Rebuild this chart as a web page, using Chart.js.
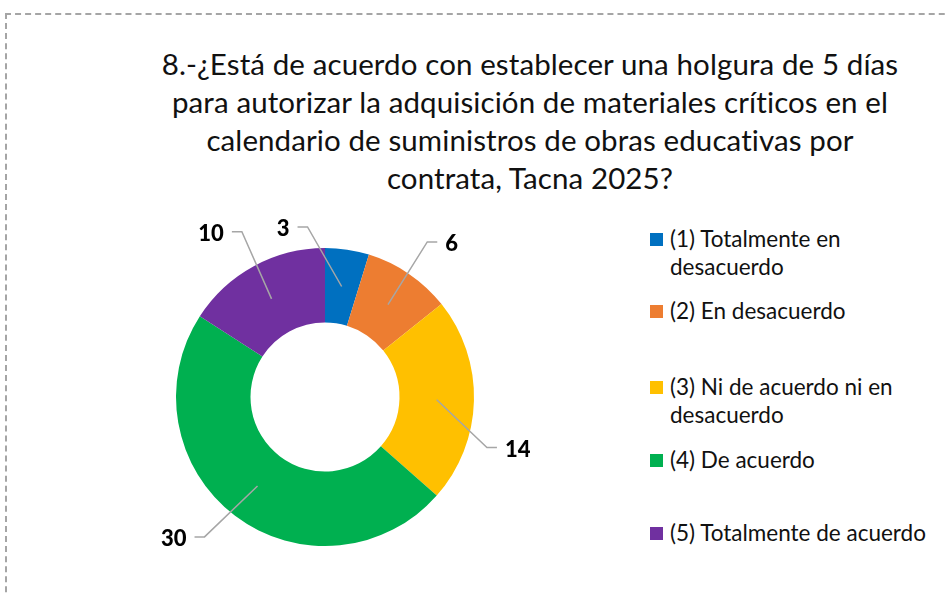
<!DOCTYPE html>
<html>
<head>
<meta charset="utf-8">
<script src="https://cdn.jsdelivr.net/npm/chart.js@4/dist/chart.umd.min.js"></script>
<style>
  html, body { margin: 0; padding: 0; background: #fff; overflow: hidden; }
  body { width: 945px; height: 596px; position: relative; font-family: Lato, "Noto Sans", sans-serif; color: #111; }
  .frame { position: absolute; left: 5px; top: 13px; width: 1000px; height: 700px; border: 2px dashed #a5a5a5; box-sizing: border-box; }
  .title { position: absolute; left: 115px; width: 830px; top: 45px; text-align: center; font-size: 29.5px; letter-spacing: 0.1px; line-height: 38px; }
  #chart { position: absolute; left: 110px; top: 210px; }
  .legend { position: absolute; left: 650px; top: 0; width: 295px; }
  .legend div { position: absolute; left: 0; font-size: 22.5px; line-height: 28px; padding-left: 20px; width: 268px; }
  .legend span { position: absolute; left: 0; top: 8px; width: 13px; height: 13px; }
</style>
</head>
<body>
<div class="frame"></div>
<div class="title">8.-¿Está de acuerdo con establecer una holgura de 5 días<br>para autorizar la adquisición de materiales críticos en el<br>calendario de suministros de obras educativas por<br>contrata, Tacna 2025?</div>
<canvas id="chart" width="430" height="374"></canvas>
<div class="legend" id="legend"></div>
<script>
// Response categories and counts
const categories = [
  "(1) Totalmente en desacuerdo",
  "(2) En desacuerdo",
  "(3) Ni de acuerdo ni en desacuerdo",
  "(4) De acuerdo",
  "(5) Totalmente de acuerdo"
];
const counts = [3, 6, 14, 30, 10];
const colors = ["#0070C0", "#ED7D31", "#FFC000", "#00B050", "#7030A0"];

// Where each data label sits, nudged from the default spot outside the ring
const labelNudge = [[-44, 6], [2, -8], [-16, 46], [-13, -2], [2, -9]];
// Vertical position of each legend entry
const legendTops = [225, 297, 373, 446, 519];

// Build the legend
const legend = document.getElementById("legend");
categories.forEach((name, i) => {
  const item = document.createElement("div");
  item.style.top = legendTops[i] + "px";
  item.innerHTML = `<span style="background:${colors[i]}"></span>${name}`;
  legend.appendChild(item);
});

// Draws the value labels with gray leader lines, like the spreadsheet chart
const leaderLabels = {
  id: "leaderLabels",
  afterDatasetsDraw(chart) {
    const ctx = chart.ctx;
    const meta = chart.getDatasetMeta(0);
    ctx.save();
    meta.data.forEach((arc, i) => {
      const p = arc.getProps(["x", "y", "startAngle", "endAngle", "innerRadius", "outerRadius"], true);
      const mid = (p.startAngle + p.endAngle) / 2;
      const rIn = (p.innerRadius + p.outerRadius) / 2;
      const rOut = p.outerRadius + 29;
      const sx = p.x + rIn * Math.cos(mid);
      const sy = p.y + rIn * Math.sin(mid);
      const ex = p.x + rOut * Math.cos(mid) + labelNudge[i][0];
      const ey = p.y + rOut * Math.sin(mid) + labelNudge[i][1];
      const left = ex < p.x;
      const hx = left ? ex - 10 : ex + 10;

      ctx.strokeStyle = "#a6a6a6";
      ctx.lineWidth = 1.5;
      ctx.beginPath();
      ctx.moveTo(sx, sy);
      ctx.lineTo(ex, ey);
      ctx.lineTo(hx, ey);
      ctx.stroke();

      ctx.fillStyle = "#000";
      ctx.font = "900 22px Lato, 'Noto Sans', sans-serif";
      ctx.textBaseline = "middle";
      ctx.textAlign = left ? "right" : "left";
      ctx.fillText(String(counts[i]), left ? hx - 8 : hx + 8, ey + 2);
    });
    ctx.restore();
  }
};

new Chart(document.getElementById("chart"), {
  type: "doughnut",
  data: {
    labels: categories,
    datasets: [{
      data: counts,
      backgroundColor: colors,
      borderWidth: 0
    }]
  },
  options: {
    responsive: false,
    animation: false,
    cutout: "50%",
    layout: { padding: { left: 66, right: 66, top: 38, bottom: 38 } },
    plugins: {
      legend: { display: false },
      tooltip: { enabled: false }
    }
  },
  plugins: [leaderLabels]
});
</script>
</body>
</html>
